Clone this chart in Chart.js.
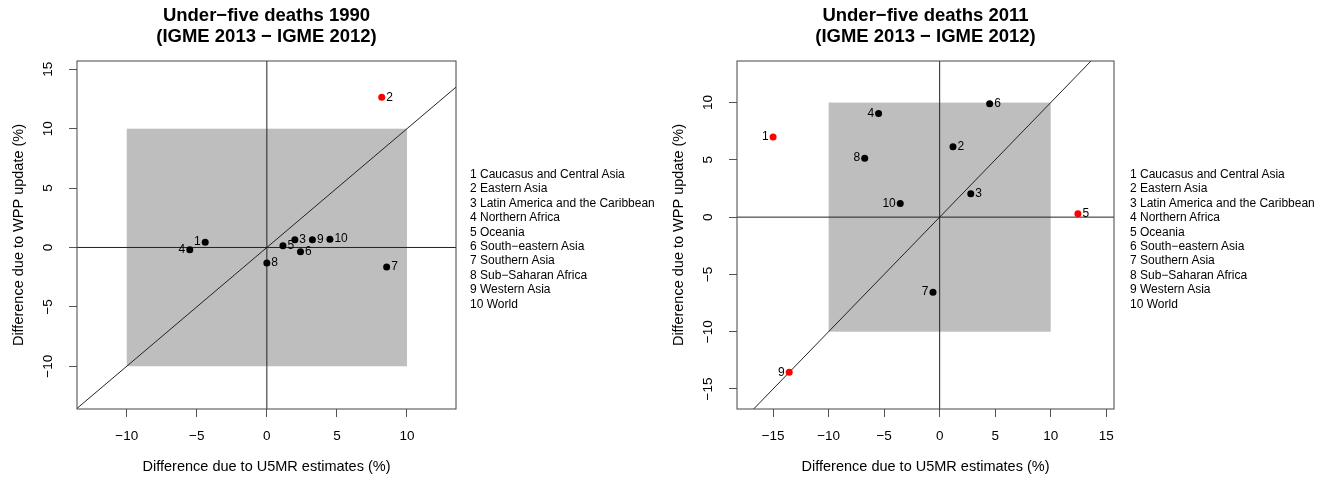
<!DOCTYPE html>
<html>
<head>
<meta charset="utf-8">
<script src="https://cdn.jsdelivr.net/npm/chart.js@4.4.0/dist/chart.umd.min.js"></script>
<style>
    body { margin: 0; background: #fff; width: 1321px; height: 480px; position: relative; overflow: hidden;
           font-family: "Liberation Sans", Arial, sans-serif; }
    .panel { position: absolute; top: 0; height: 480px; }
    .panel canvas { display: block; }
    .legend { position: absolute; top: 167px; font-size: 12px; line-height: 14.4px; color: #000; white-space: nowrap; }
</style>
</head>
<body>
<div class="panel" style="left:0;width:660px">
    <canvas id="chart1990" width="660" height="480"></canvas>
    <div class="legend" id="legend1990" style="left:470px"></div>
</div>
<div class="panel" style="left:660px;width:661px">
    <canvas id="chart2011" width="661" height="480"></canvas>
    <div class="legend" id="legend2011" style="left:470px"></div>
</div>
<script>
// Régions (numérotées 1..10 dans les graphiques)
const regionNames = [
    'Caucasus and Central Asia', 'Eastern Asia', 'Latin America and the Caribbean',
    'Northern Africa', 'Oceania', 'South\u2212eastern Asia', 'Southern Asia',
    'Sub\u2212Saharan Africa', 'Western Asia', 'World'
];

// 1990 : différence due aux estimations U5MR (x) et à la mise à jour WPP (y), en %
const u5mrDiff1990 = [-4.4, 8.2, 2.0, -5.5, 1.15, 2.4, 8.55, 0.0, 3.25, 4.5];
const wppDiff1990  = [0.45, 12.65, 0.65, -0.2, 0.15, -0.35, -1.65, -1.3, 0.65, 0.7];
const labelSide1990 = ['L', 'R', 'R', 'L', 'R', 'R', 'R', 'R', 'R', 'R'];

// 2011
const u5mrDiff2011 = [-15.0, 1.2, 2.8, -5.5, 12.45, 4.5, -0.6, -6.75, -13.55, -3.55];
const wppDiff2011  = [7.0, 6.15, 2.05, 9.05, 0.3, 9.9, -6.55, 5.15, -13.55, 1.2];
const labelSide2011 = ['L', 'R', 'R', 'L', 'R', 'R', 'L', 'L', 'L', 'L'];

// Graduations des axes
const xTicks1990 = [-10, -5, 0, 5, 10];
const yTicks1990 = [-10, -5, 0, 5, 10, 15];
const xTicks2011 = [-15, -10, -5, 0, 5, 10, 15];
const yTicks2011 = [-15, -10, -5, 0, 5, 10];

const FONT = '"Liberation Sans", Arial, sans-serif';
const fmt = v => (v < 0 ? '\u2212' + Math.abs(v) : String(v));

function fillLegend(id) {
    const el = document.getElementById(id);
    el.innerHTML = regionNames.map((n, i) => `<div>${i + 1} ${n}</div>`).join('');
}

function buildChart(canvasId, cfg) {
    const ctx = document.getElementById(canvasId);
    const colors = cfg.x.map((x, i) => (Math.abs(x) > 10 || Math.abs(cfg.y[i]) > 10) ? '#ff0000' : '#000000');

    // Fond : zone grise, axes zéro, diagonale et cadre, puis textes
    const framePlugin = {
        id: 'frame',
        beforeDatasetsDraw(chart) {
            const { ctx: c, chartArea: a, scales: { x, y } } = chart;
            c.save();
            c.beginPath();
            c.rect(a.left, a.top, a.right - a.left, a.bottom - a.top);
            c.clip();
            const bx0 = x.getPixelForValue(-10), bx1 = x.getPixelForValue(10);
            const by0 = y.getPixelForValue(10), by1 = y.getPixelForValue(-10);
            c.fillStyle = '#bebebe';
            c.fillRect(bx0, by0, bx1 - bx0, by1 - by0);
            c.strokeStyle = '#222';
            c.lineWidth = 1;
            c.beginPath();
            const x0 = x.getPixelForValue(0), y0 = y.getPixelForValue(0);
            c.moveTo(x0, a.top); c.lineTo(x0, a.bottom);
            c.moveTo(a.left, y0); c.lineTo(a.right, y0);
            const lo = Math.min(x.min, y.min), hi = Math.max(x.max, y.max);
            c.moveTo(x.getPixelForValue(lo), y.getPixelForValue(lo));
            c.lineTo(x.getPixelForValue(hi), y.getPixelForValue(hi));
            c.stroke();
            c.restore();
            c.save();
            c.strokeStyle = '#444';
            c.strokeRect(a.left, a.top, a.right - a.left, a.bottom - a.top);
            c.restore();
        },
        afterDatasetsDraw(chart) {
            const { ctx: c } = chart;
            const meta = chart.getDatasetMeta(0);
            c.save();
            c.fillStyle = '#000';
            c.font = `12px ${FONT}`;
            c.textBaseline = 'middle';
            meta.data.forEach((pt, i) => {
                const left = cfg.sides[i] === 'L';
                c.textAlign = left ? 'right' : 'left';
                c.fillText(String(i + 1), pt.x + (left ? -4.5 : 4.5), pt.y);
            });
            c.restore();
        },
        afterDraw(chart) {
            const { ctx: c, chartArea: a, scales: { y } } = chart;
            const cx = (a.left + a.right) / 2;
            c.save();
            c.fillStyle = '#000';
            c.textAlign = 'center';
            c.textBaseline = 'middle';
            c.font = `bold 18.5px ${FONT}`;
            c.fillText(cfg.title[0], cx, 16);
            c.fillText(cfg.title[1], cx, 37);
            c.font = `14.5px ${FONT}`;
            c.fillText('Difference due to U5MR estimates (%)', cx, 467);
            // titre et graduations verticales, tournés comme dans R
            c.save();
            c.translate(19, (a.top + a.bottom) / 2);
            c.rotate(-Math.PI / 2);
            c.fillText('Difference due to WPP update (%)', 0, 0);
            c.restore();
            c.font = `13.5px ${FONT}`;
            y.ticks.forEach(t => {
                c.save();
                c.translate(a.left - 29, y.getPixelForValue(t.value));
                c.rotate(-Math.PI / 2);
                c.fillText(fmt(t.value), 0, 0);
                c.restore();
            });
            c.restore();
        }
    };

    return new Chart(ctx, {
        type: 'scatter',
        data: {
            datasets: [{
                data: cfg.x.map((x, i) => ({ x: x, y: cfg.y[i] })),
                pointRadius: 3.5,
                pointHoverRadius: 3.5,
                pointBackgroundColor: colors,
                pointBorderColor: colors,
                pointBorderWidth: 0
            }]
        },
        options: {
            responsive: false,
            animation: false,
            devicePixelRatio: 1,
            layout: { padding: { left: 0, top: 61, right: cfg.padRight, bottom: 0 } },
            plugins: { legend: { display: false }, tooltip: { enabled: false }, title: { display: false } },
            scales: {
                x: {
                    type: 'linear', min: cfg.xRange[0], max: cfg.xRange[1],
                    afterBuildTicks: s => { s.ticks = cfg.xTicks.map(v => ({ value: v })); },
                    afterFit: s => { s.height = 71; },
                    grid: { drawOnChartArea: false, drawTicks: true, tickLength: 8, color: '#555' },
                    border: { display: false },
                    ticks: { padding: 11, color: '#000', maxRotation: 0, font: { size: 13.5, family: FONT }, callback: v => fmt(v) }
                },
                y: {
                    type: 'linear', min: cfg.yRange[0], max: cfg.yRange[1],
                    afterBuildTicks: s => { s.ticks = cfg.yTicks.map(v => ({ value: v })); },
                    afterFit: s => { s.width = 77; },
                    grid: { drawOnChartArea: false, drawTicks: true, tickLength: 8, color: '#555' },
                    border: { display: false },
                    ticks: { color: 'rgba(0,0,0,0)', font: { size: 13, family: FONT } }
                }
            }
        },
        plugins: [framePlugin]
    });
}

fillLegend('legend1990');
fillLegend('legend2011');

buildChart('chart1990', {
    x: u5mrDiff1990, y: wppDiff1990, sides: labelSide1990,
    xTicks: xTicks1990, yTicks: yTicks1990,
    xRange: [-13.55, 13.5], yRange: [-13.6, 15.7], padRight: 204,
    title: ['Under\u2212five deaths 1990', '(IGME 2013 \u2212 IGME 2012)']
});
buildChart('chart2011', {
    x: u5mrDiff2011, y: wppDiff2011, sides: labelSide2011,
    xTicks: xTicks2011, yTicks: yTicks2011,
    xRange: [-18.25, 15.7], yRange: [-16.75, 13.63], padRight: 207,
    title: ['Under\u2212five deaths 2011', '(IGME 2013 \u2212 IGME 2012)']
});
</script>
</body>
</html>
